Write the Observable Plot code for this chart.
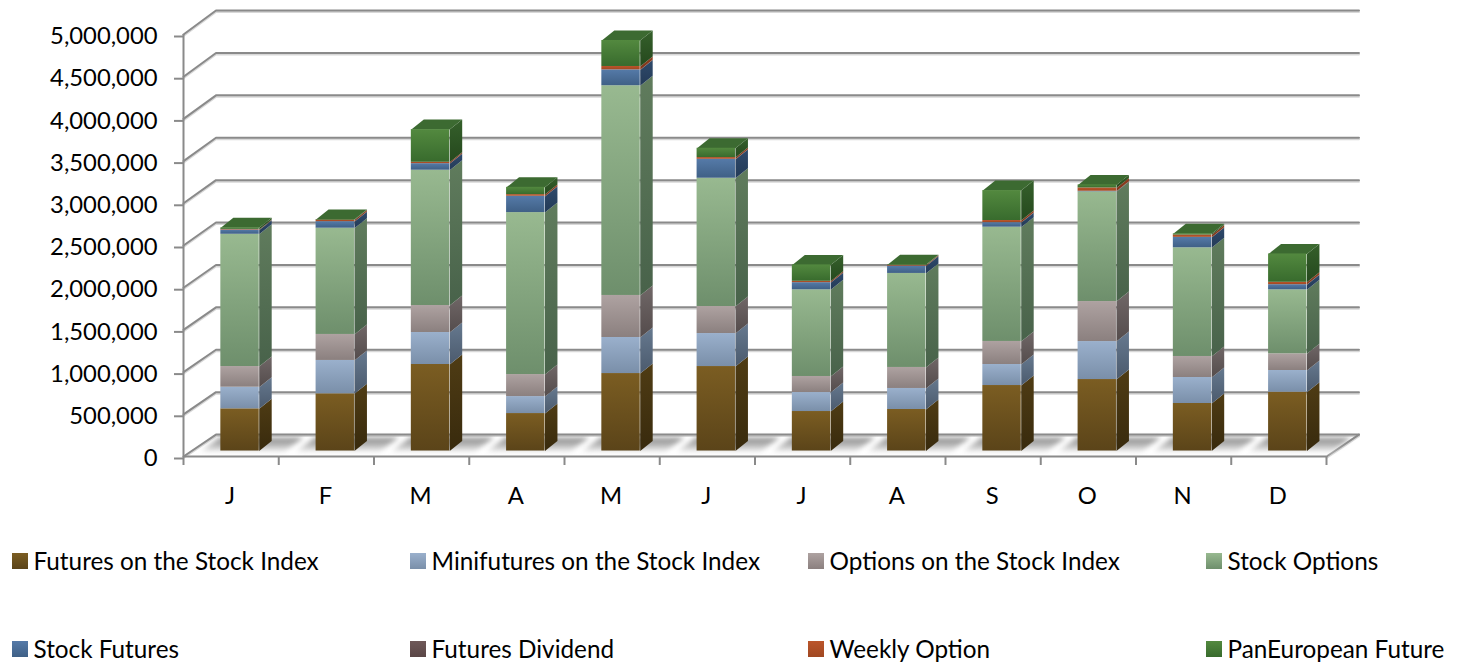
<!DOCTYPE html>
<html><head><meta charset="utf-8">
<style>
html,body{margin:0;padding:0;background:#fff;overflow:hidden}
#chart svg{display:block}
#legend{display:grid;grid-template-columns:repeat(4,398px);row-gap:58px;padding-left:12px;font:24.3px Lato,sans-serif;color:#000;line-height:30px}
.item{display:flex;align-items:center;white-space:nowrap}
.sw{width:16px;height:16px;margin-right:5.5px;flex:none}
</style>
<script src="https://cdn.jsdelivr.net/npm/d3@7"></script>
<script src="https://cdn.jsdelivr.net/npm/@observablehq/plot@0.6"></script>
</head><body>
<div id="chart"></div><div id="legend"></div>
<script>
const months = ["J","F","M","A","M","J","J","A","S","O","N","D"];
const seriesNames = ["Futures on the Stock Index","Minifutures on the Stock Index","Options on the Stock Index","Stock Options","Stock Futures","Futures Dividend","Weekly Option","PanEuropean Future"];
const futuresIndex = [500000,678000,1025000,444000,918000,1001000,468000,492000,776000,847000,563000,697000];
const minifutures  = [256000,395000,379000,201000,427000,391000,225000,249000,249000,450000,308000,257000];
const optionsIndex = [245000,308000,320000,261000,498000,320000,190000,249000,273000,474000,249000,198000];
const stockOptions = [1567000,1259000,1603000,1919000,2485000,1520000,1027000,1114000,1354000,1300000,1288000,758000];
const stockFutures = [49000,77000,77000,192000,187000,223000,84000,85000,53000,5000,122000,60000];
const futuresDividend = [2000,2000,2000,2000,2000,2000,2000,2000,2000,2000,2000,2000];
const weeklyOption = [7000,17000,15000,19000,39000,20000,15000,9000,24000,39000,27000,27000];
const panEuropean  = [18000,7000,387000,86000,308000,110000,194000,6000,355000,36000,14000,336000];
const allSeries = [futuresIndex,minifutures,optionsIndex,stockOptions,stockFutures,futuresDividend,weeklyOption,panEuropean];
const gridValues = [0,500000,1000000,1500000,2000000,2500000,3000000,3500000,4000000,4500000,5000000];
// face colours: [front top, front bottom, side top, side bottom]
const faceColors = [
 ["#7b5d22","#5b4419","#4f3c14","#382a0d"],
 ["#9ab0cc","#7a8fa9","#66798f","#4b5a6d"],
 ["#aea2a1","#8b807f","#706767","#544c4c"],
 ["#98b990","#6e8f6c","#607c5d","#48624a"],
 ["#557aa8","#3f6086","#2f4a6b","#233a57"],
 ["#6e5858","#5a4646","#4a3a3a","#3a2c2c"],
 ["#bb552b","#a04822","#8f3f20","#7c351a"],
 ["#53893f","#386b2d","#35602b","#25481d"]
];
const topColor = "#3c6a31";

// 3D geometry, in scale units
const wallDx = 0.341, wallDyBase = 260000, wallDyGrow = 0.0048;
const barStart = 0.392, barWidth = 0.403, barDx = 0.131, barDy = 118500, barLift = 65000;

const fronts = [], sides = [], tops = [], shadows = [], walls = [];
months.forEach((m, i) => {
  let base = barLift;
  const x1 = i + barStart, x2 = x1 + barWidth;
  allSeries.forEach((vals, s) => {
    const top = base + vals[i];
    fronts.push({s, x1, x2, y1: base, y2: top});
    const id = i + "-" + s;
    sides.push({s, id, x: x2, y: base}, {s, id, x: x2 + barDx, y: base + barDy},
               {s, id, x: x2 + barDx, y: top + barDy}, {s, id, x: x2, y: top});
    base = top;
  });
  tops.push({id: i, x: x1, y: base}, {id: i, x: x2, y: base},
            {id: i, x: x2 + barDx, y: base + barDy}, {id: i, x: x1 + barDx, y: base + barDy});
  const sy0 = 45000, sy1 = 225000, sdx = 0.22;
  shadows.push({id: i, x: i + 0.16, y: sy0}, {id: i, x: i + 1.04, y: sy0},
               {id: i, x: i + 1.04 + sdx, y: sy1}, {id: i, x: i + 0.16 + sdx, y: sy1});
});
gridValues.forEach(v => {
  const dy = wallDyBase + v * wallDyGrow;
  walls.push({v, x: 0, y: v}, {v, x: wallDx, y: v + dy}, {v, x: 12 + wallDx, y: v + dy});
});
walls.push({v: "end", x: 12, y: 0}, {v: "end", x: 12 + wallDx, y: wallDyBase});

const lineColor = "#8a8a8a";
const grid = (o) => Plot.line(walls, {x: "x", y: "y", z: "v", stroke: lineColor, strokeWidth: 2, strokeLinejoin: "miter", ...o});

const plot = Plot.plot({
  width: 1458, height: 546,
  marginLeft: 183, marginRight: 132, marginTop: 34, marginBottom: 90,
  x: {type: "linear", domain: [0, 12], axis: null},
  y: {type: "linear", domain: [0, 5000000], axis: null},
  style: {fontFamily: "Lato, sans-serif", fontSize: "23.8px", color: "#000", background: "#fff", overflow: "visible"},
  marks: [
    grid({stroke: "#d8d8d8", dy: 1.5}),
    grid({}),
    Plot.line(shadows, {x: "x", y: "y", z: "id", fill: "url(#floorShadow)", stroke: "none", imageFilter: "blur(2.5px)"}),
    Plot.ruleY([0], {stroke: lineColor, strokeWidth: 2}),
    Plot.ruleX([0], {y1: 0, y2: 5000000, stroke: lineColor, strokeWidth: 2}),
    Plot.axisY({
      ticks: gridValues, tickFormat: d3.format(","), tickSize: 9, tickPadding: 17,
      stroke: lineColor, strokeWidth: 2, fontSize: 23.8, dy: 2
    }),
    Plot.axisX({
      ticks: d3.range(0, 13), tickFormat: () => "", tickSize: 9, label: null,
      stroke: lineColor, strokeWidth: 2
    }),
    Plot.axisX({
      ticks: months.map((m, i) => i + 0.5), tickFormat: (d) => months[d - 0.5],
      tickSize: 0, tickPadding: 31, label: null, fontSize: 23.8, dx: -1
    }),
    ...allSeries.map((_, s) => Plot.line(sides.filter(d => d.s === s),
      {x: "x", y: "y", z: "id", fill: `url(#side${s})`, stroke: "none"})),
    Plot.line(tops, {x: "x", y: "y", z: "id", fill: topColor, stroke: "none"}),
    ...allSeries.map((_, s) => Plot.rect(fronts.filter(d => d.s === s),
      {x1: "x1", x2: "x2", y1: "y1", y2: "y2", fill: `url(#front${s})`}))
  ]
});

const defs = d3.select(plot).insert("defs", ":first-child");
const addGradient = (id, a, b, stops = []) => {
  const g = defs.append("linearGradient").attr("id", id)
    .attr("x1", 0).attr("y1", 0).attr("x2", 0).attr("y2", 1);
  g.append("stop").attr("offset", 0).attr("stop-color", a);
  stops.forEach(([o, c]) => g.append("stop").attr("offset", o).attr("stop-color", c));
  g.append("stop").attr("offset", 1).attr("stop-color", b);
};
addGradient("floorShadow", "#8c8c8c", "#ffffff", [[0.55, "#bcbcbc"]]);
faceColors.forEach((c, s) => {
  addGradient("front" + s, c[0], c[1]);
  addGradient("side" + s, c[2], c[3]);
});
document.getElementById("chart").append(plot);

d3.select("#legend").selectAll(".item").data(seriesNames).join("div").attr("class", "item")
  .html((d, i) => `<span class="sw" style="background:linear-gradient(${faceColors[i][0]},${faceColors[i][1]})"></span><span>${d}</span>`);
</script>
</body></html>
